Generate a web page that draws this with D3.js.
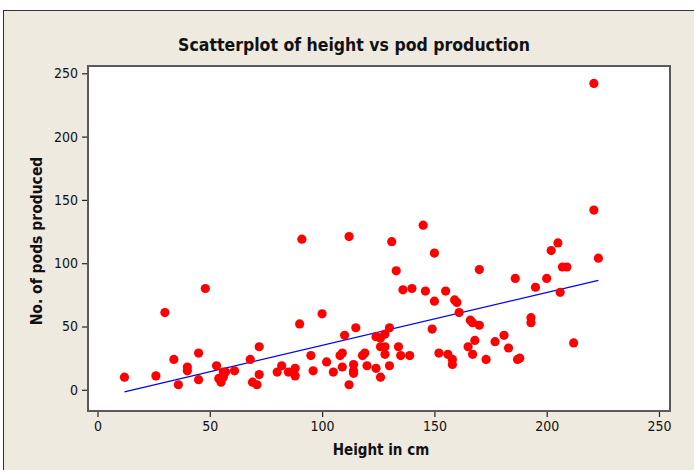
<!DOCTYPE html>
<html><head><meta charset="utf-8">
<script src="https://cdn.jsdelivr.net/npm/d3@7"></script>
<style>
html,body{margin:0;padding:0;background:#fff;}
svg{display:block;}
</style></head>
<body>
<svg id="c" width="694" height="470"></svg>
<script>
const heights = [12,26,30,34,36,40,40,45,45,48,53,54,55,56,56,57,61,68,69,71,72,72,80,82,85,88,88,90,91,95,96,100,102,105,108,109,109,110,112,112,114,114,114,115,118,119,120,124,124,126,126,126,128,128,128,130,130,131,133,134,135,136,139,140,145,146,149,150,150,152,155,156,158,158,159,160,161,165,166,167,167,168,170,170,173,177,181,183,186,187,188,193,193,195,200,202,205,206,207,209,212,221,221,223];
const pods =    [10,11,61,24,4,18,15,29,8,80,19,9,6,10,14,14,15,24,6,4,34,12,14,19,14,17,11,52,119,27,15,60,22,14,27,29,18,43,121,4,20,15,13,49,27,29,19,17,42,41,34,10,44,34,28,19,49,117,94,34,27,79,27,80,130,78,48,108,70,29,78,28,24,20,71,69,61,34,55,53,28,39,51,95,24,38,43,33,88,24,25,57,53,81,88,110,116,77,97,97,37,242,142,104];
const xTicks = [0,50,100,150,200,250];
const yTicks = [0,50,100,150,200,250];
const title = "Scatterplot of height vs pod production";
const xTitle = "Height in cm";
const yTitle = "No. of pods produced";

const svg = d3.select("#c");
const W = 694, H = 470;
const plot = {l:88, t:66, r:670, b:411};

svg.append("rect").attr("x",3.5).attr("y",10.5).attr("width",W).attr("height",H)
  .attr("fill","#EEEAE0").attr("stroke","#333").attr("stroke-width",1);

const x = d3.scaleLinear().domain([0,250]).range([97.5,659]);
const y = d3.scaleLinear().domain([0,250]).range([389.8,73.3]);

svg.append("rect").attr("x",plot.l).attr("y",plot.t).attr("width",plot.r-plot.l).attr("height",plot.b-plot.t)
  .attr("fill","#fff").attr("stroke","#5a5a5a").attr("stroke-width",2);

const font = "'DejaVu Sans Condensed','DejaVu Sans',sans-serif";

const xAxis = svg.append("g").attr("transform",`translate(0,${plot.b+1})`)
  .call(d3.axisBottom(x).tickValues(xTicks).tickSize(5).tickPadding(4));
const yAxis = svg.append("g").attr("transform",`translate(${plot.l-1},0)`)
  .call(d3.axisLeft(y).tickValues(yTicks).tickSize(5).tickPadding(4));
[xAxis,yAxis].forEach(a=>{
  a.select(".domain").remove();
  a.selectAll("line").attr("stroke","#222").attr("stroke-width",1.2);
  a.selectAll("text").attr("fill","#111").style("font-family",font).style("font-size","14px");
});

// regression line
const n = heights.length;
const mx = d3.mean(heights), my = d3.mean(pods);
let sxy=0,sxx=0;
for(let i=0;i<n;i++){sxy+=(heights[i]-mx)*(pods[i]-my);sxx+=(heights[i]-mx)**2;}
const slope = sxy/sxx, icpt = my - slope*mx;
const ext = d3.extent(heights);
svg.append("line")
  .attr("x1",x(ext[0])).attr("y1",y(icpt+slope*ext[0]))
  .attr("x2",x(ext[1])).attr("y2",y(icpt+slope*ext[1]))
  .attr("stroke","#0000ff").attr("stroke-width",1.3);

svg.append("g").selectAll("circle").data(heights).join("circle")
  .attr("cx",(d)=>x(d)).attr("cy",(d,i)=>y(pods[i])).attr("r",4.6).attr("fill","#ff0000");

svg.append("text").attr("x",354).attr("y",51).attr("text-anchor","middle")
  .style("font-family",font).style("font-weight","bold").style("font-size","17.5px").attr("fill","#111").text(title);
svg.append("text").attr("x",381).attr("y",455).attr("text-anchor","middle")
  .style("font-family",font).style("font-weight","bold").style("font-size","15px").attr("fill","#111").text(xTitle);
svg.append("text").attr("transform","translate(42,241) rotate(-90)").attr("text-anchor","middle")
  .style("font-family",font).style("font-weight","bold").style("font-size","15.5px").attr("fill","#111").text(yTitle);
</script>
</body></html>
